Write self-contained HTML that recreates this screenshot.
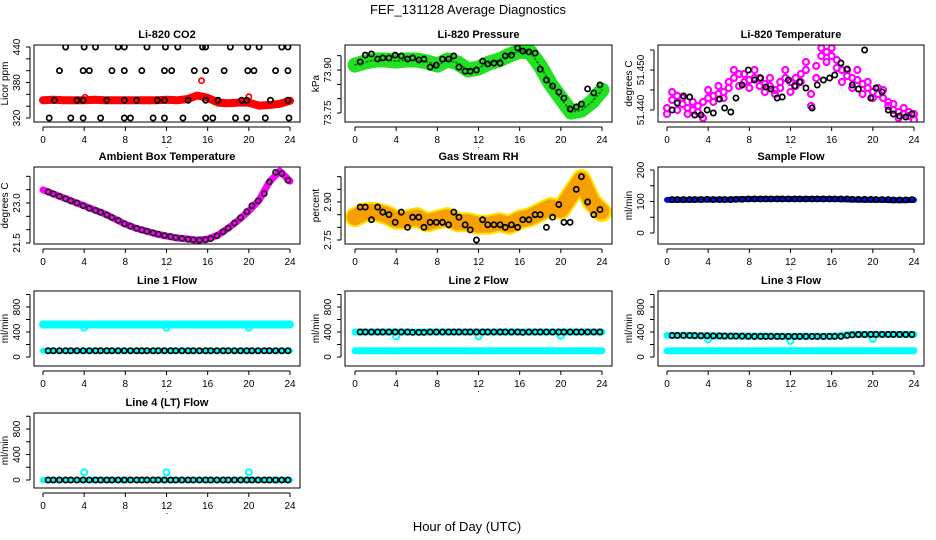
<!DOCTYPE html>
<html><head><meta charset="utf-8"><style>
html,body{margin:0;padding:0;background:#fff;}
svg{display:block;font-family:"Liberation Sans",sans-serif;}
</style></head><body>
<svg id="chart" width="936" height="540" viewBox="0 0 936 540" xmlns="http://www.w3.org/2000/svg">
<text x="468" y="14" font-size="13" text-anchor="middle">FEF_131128  Average Diagnostics</text>
<text x="467" y="531" font-size="13" text-anchor="middle">Hour of Day (UTC)</text>
</svg>
<script>
const xTicks = [0,4,8,12,16,20,24];
const hourly = [0,1,2,3,4,5,6,7,8,9,10,11,12,13,14,15,16,17,18,19,20,21,22,23,24];
const halfHours = [0,0.5,1,1.5,2,2.5,3,3.5,4,4.5,5,5.5,6,6.5,7,7.5,8,8.5,9,9.5,10,10.5,11,11.5,12,12.5,13,13.5,14,14.5,15,15.5,16,16.5,17,17.5,18,18.5,19,19.5,20,20.5,21,21.5,22,22.5,23,23.5,24];
const blackHours = [0.5,1,1.6,2.2,2.7,3.3,3.9,4.5,5.1,5.6,6.2,6.7,7.3,7.9,8.5,9.1,9.6,10.1,10.7,11.2,11.8,12.4,12.9,13.5,14.1,14.6,15.2,15.8,16.3,16.9,17.5,18.0,18.6,19.2,19.8,20.3,20.9,21.5,22.0,22.6,23.2,23.8];
const outlierHours = [4,12,20];

// CO2
const co2Band = [350,351,350,350,350,351,350,350,350,350,350,350,351,350,352,358,354,346,345,346,346,341,342,344,349];
const co2H440 = [2.2,4,5.1,7.3,7.9,10.1,11.9,13.1,15.5,15.8,18.2,19.9,21.0,23.2,23.8];
const co2H400 = [1.6,3.9,4.5,6.7,7.9,9.6,11.8,12.5,14.7,15.8,17.6,19.9,20.5,22.6,23.8];
const co2H350 = [1.1,3.3,3.9,6.2,7.9,9.1,11.1,11.8,14.1,15.8,17.0,19.3,19.8,22.1,23.8];
const co2H320 = [0.6,2.7,3.9,5.6,7.9,8.5,10.7,11.8,13.6,15.8,16.5,18.7,19.8,21.6,23.9];
const co2Levels = [440,400,350,320];
const co2RedOutH = [4.1,15.4,20.0];
const co2RedOutV = [355,383,356];

// Pressure
const presBand = [73.917,73.928,73.935,73.935,73.931,73.935,73.935,73.928,73.917,73.935,73.924,73.900,73.907,73.924,73.935,73.952,73.966,73.963,73.914,73.851,73.802,73.753,73.760,73.788,73.830];
const presBlack = [73.928,73.952,73.956,73.938,73.942,73.942,73.952,73.949,73.938,73.942,73.935,73.938,73.910,73.917,73.938,73.938,73.949,73.910,73.896,73.896,73.900,73.931,73.921,73.924,73.924,73.949,73.952,73.977,73.966,73.963,73.959,73.903,73.865,73.844,73.823,73.802,73.764,73.771,73.781,73.834,73.820,73.848];

// Li-820 temperature
const ltMagA = [51.4405,51.4425,51.4435,51.4415,51.4405,51.4400,51.4395,51.4420,51.4430,51.4435,51.4440,51.4445,51.4455,51.4480,51.4490,51.4470,51.4475,51.4480,51.4480,51.4465,51.4460,51.4450,51.4470,51.4480,51.4470,51.4460,51.4490,51.4520,51.4410,51.4510,51.4535,51.4545,51.4535,51.4525,51.4500,51.4485,51.4480,51.4475,51.4465,51.4455,51.4445,51.4440,51.4450,51.4420,51.4400,51.4395,51.4390,51.4385,51.4390];
const ltMagB = [51.4390,51.4445,51.4400,51.4430,51.4390,51.4420,51.4410,51.4380,51.4450,51.4420,51.4460,51.4430,51.4470,51.4500,51.4460,51.4490,51.4455,51.4500,51.4460,51.4445,51.4480,51.4440,51.4455,51.4500,51.4445,51.4480,51.4470,51.4500,51.4440,51.4480,51.4555,51.4520,51.4555,51.4505,51.4470,51.4500,51.4455,51.4500,51.4440,51.4470,51.4430,51.4455,51.4430,51.4410,51.4415,51.4380,51.4405,51.4395,51.4375];
const ltBlack = [51.4400,51.44175,51.4435,51.44325,51.43875,51.43875,51.4400,51.43925,51.44275,51.4405,51.4395,51.4430,51.44625,51.4500,51.4475,51.4480,51.44575,51.44525,51.4430,51.44325,51.4475,51.4460,51.4470,51.4455,51.4405,51.44625,51.4475,51.4480,51.44875,51.45175,51.45025,51.44625,51.44525,51.4550,51.4430,51.4455,51.4445,51.4400,51.4390,51.4385,51.43825,51.4390];

// Ambient box temperature
const ambBand = [23.49,23.34,23.19,23.04,22.89,22.74,22.59,22.40,22.21,22.06,21.95,21.84,21.76,21.69,21.65,21.61,21.65,21.80,22.06,22.36,22.70,23.11,23.79,24.20,23.82];
const ambBlack = [23.42,23.34,23.25,23.16,23.08,23.00,22.90,22.80,22.72,22.65,22.55,22.46,22.35,22.22,22.13,22.05,21.99,21.94,21.88,21.83,21.78,21.74,21.70,21.67,21.64,21.62,21.61,21.62,21.66,21.77,21.92,22.06,22.25,22.45,22.68,22.90,23.08,23.35,23.79,24.15,24.10,23.85];

// Gas stream RH
const rhBand = [2.84,2.86,2.86,2.85,2.83,2.83,2.84,2.82,2.83,2.84,2.82,2.82,2.81,2.81,2.82,2.81,2.83,2.84,2.86,2.88,2.87,2.93,2.99,2.90,2.86];
const rhBlack = [2.88,2.88,2.83,2.88,2.86,2.85,2.82,2.86,2.80,2.84,2.84,2.80,2.82,2.82,2.82,2.81,2.86,2.84,2.81,2.79,2.75,2.83,2.81,2.81,2.81,2.80,2.81,2.80,2.83,2.83,2.85,2.85,2.80,2.84,2.89,2.82,2.82,2.95,3.00,2.90,2.85,2.87];

// Sample flow
const sfBand = [105,105,105,106,106,106,106,107,108,108,108,108,108,108,108,108,108,107,106,105,105,105,104,104,105];
const sfBlack = [106,106,106,106,106,106,107,106,106,106,106,107,107,108,108,108,108,108,108,108,108,108,108,108,108,108,108,108,108,108,108,107,107,107,107,106,106,106,105,105,105,106];

// Line flows
const l1Top = [520,520,520,520,520,520,520,520,520,520,520,520,520,520,520,520,520,520,520,520,520,520,520,520,520];
const l1Low = [100,100,100,100,100,100,100,100,100,100,100,100,100,100,100,100,100,100,100,100,100,100,100,100,100];
const l1Out = [470,470,470];
const l1Black = [100,100,100,100,100,100,100,100,100,100,100,100,100,100,100,100,100,100,100,100,100,100,100,100,100,100,100,100,100,100,100,100,100,100,100,100,100,100,100,100,100,100];
const l2Top = [400,400,400,400,400,400,400,400,400,400,400,400,400,400,400,400,400,400,400,400,400,400,400,400,400];
const l2Low = [100,100,100,100,100,100,100,100,100,100,100,100,100,100,100,100,100,100,100,100,100,100,100,100,100];
const l2Out = [330,330,340];
const l2Black = [400,400,400,400,400,400,400,400,400,395,395,395,400,400,400,400,400,400,400,400,400,400,400,400,400,400,400,400,395,400,400,400,400,400,400,400,400,400,400,400,400,400];
const l3Top = [345,345,345,340,340,335,335,335,335,335,335,330,330,330,330,330,330,345,360,360,360,360,360,360,360];
const l3Low = [100,100,100,100,100,100,100,100,100,100,100,100,100,100,100,100,100,100,100,100,100,100,100,100,100];
const l3Out = [280,260,290];
const l3Black = [345,345,345,345,342,340,340,338,338,336,335,335,334,332,330,330,330,330,330,330,330,330,330,330,330,330,330,330,330,330,345,355,360,360,362,362,362,362,362,362,360,360];
const l4Low = [0,0,0,0,0,0,0,0,0,0,0,0,0,0,0,0,0,0,0,0,0,0,0,0,0];
const l4Out = [120,120,120];
const l4Black = [0,0,0,0,0,0,0,0,0,0,0,0,0,0,0,0,0,0,0,0,0,0,0,0,0,0,0,0,0,0,0,0,0,0,0,0,0,0,0,0,0,0];

const svg = document.getElementById('chart');
const NS = 'http://www.w3.org/2000/svg';
function mk(tag, attrs, parent){
  const e = document.createElementNS(NS, tag);
  for (const k in attrs) e.setAttribute(k, attrs[k]);
  (parent||svg).appendChild(e);
  return e;
}

function panel(cfg){
  const g = mk('g', {});
  
  
  const [L,T,R,B] = cfg.box;
  const sx = h => cfg.x0 + h * (247/24);
  const sy = v => cfg.yp[0] + (v - cfg.yv[0]) * (cfg.yp[1]-cfg.yp[0])/(cfg.yv[1]-cfg.yv[0]);
  const clip = 'clip-' + cfg.name;
  const cp = mk('clipPath', {id: clip}, g);
  mk('rect', {x:L, y:T, width:R-L, height:B-T}, cp);
  const plot = mk('g', {'clip-path':'url(#'+clip+')'}, g);
  
  
  cfg.draw(plot, sx, sy);
  const box = mk('rect', {x:L, y:T, width:R-L, height:B-T, fill:'none', stroke:'#000', 'stroke-width':1}, g);
  
  
  const t = mk('text', {x:(L+R)/2, y:T-7, 'font-size':11, 'font-weight':'bold', 'text-anchor':'middle'}, g);
  t.textContent = cfg.title;
  
  
  const xa = mk('g', {}, g);
  
  
  const ay = B + 5;
  mk('line', {x1:sx(0), x2:sx(24), y1:ay, y2:ay, stroke:'#000', 'stroke-width':1}, xa);
  xTicks.forEach(h => {
    mk('line', {x1:sx(h), x2:sx(h), y1:ay, y2:ay+4, stroke:'#000'}, xa);
    const tl = mk('text', {x:sx(h), y:ay+16, 'font-size':10, 'text-anchor':'middle'}, xa);
    tl.textContent = h;
    
    
  });
  const ya = mk('g', {}, g);
  
  
  const ax = L - 4;
  const tpx = cfg.ticks.map(sy);
  mk('line', {x1:ax, x2:ax, y1:Math.min(...tpx), y2:Math.max(...tpx), stroke:'#000'}, ya);
  cfg.ticks.forEach(v => {
    mk('line', {x1:ax-4, x2:ax, y1:sy(v), y2:sy(v), stroke:'#000'}, ya);
  });
  cfg.labels.forEach(v => {
    const lx = L - 14, ly = sy(v);
    const tl = mk('text', {x:lx, y:ly, 'font-size':10, 'text-anchor':'middle', transform:`rotate(-90 ${lx} ${ly})`}, ya);
    tl.textContent = cfg.fmt ? cfg.fmt(v) : v;
    
    
  });
  const yl = L - 26, ymid = (T+B)/2;
  const ylt = mk('text', {x:yl, y:ymid, 'font-size':10, 'text-anchor':'middle', transform:`rotate(-90 ${yl} ${ymid})`}, g);
  ylt.textContent = cfg.ylab;
  
  
  const dot = mk('text', {x:(L+R)/2, y:B+26, 'font-size':9, 'text-anchor':'middle'}, g);
  dot.textContent = '.';
  
  
}

function band(p, xs, ys, sx, sy, color, width, name){
  const pts = xs.map((h,i) => sx(h).toFixed(1)+','+sy(ys[i]).toFixed(1)).join(' ');
  const e = mk('polyline', {points:pts, fill:'none', stroke:color, 'stroke-width':width, 'stroke-linejoin':'round', 'stroke-linecap':'round'}, p);
  
  
  return e;
}
function circles(p, xs, ys, sx, sy, color, name, r, sw){
  const g = mk('g', {}, p);
  
  
  xs.forEach((h,i) => {
    mk('circle', {cx:sx(h), cy:sy(ys[i]), r:r||2.6, fill:'none', stroke:color, 'stroke-width':sw||1.7}, g);
  });
}
const fill = (n, v) => Array(n).fill(v);

panel({name:'co2-panel', title:'Li-820 CO2', box:[34,45,300,122], x0:43, yv:[320,440], yp:[118,47],
  ticks:[320,340,360,380,400,420,440], labels:[320,380,440], ylab:'Licor ppm',
  draw:(p,sx,sy)=>{
    band(p, hourly, co2Band, sx, sy, '#f00', 8, 'co2-red-series');
    circles(p, co2RedOutH, co2RedOutV, sx, sy, '#f00', 'co2-red-outliers');
    [co2H440,co2H400,co2H350,co2H320].forEach((hs,k)=>{
      circles(p, hs, fill(hs.length, co2Levels[k]), sx, sy, '#000', 'co2-black-points-'+co2Levels[k]);
    });
  }});

panel({name:'pressure-panel', title:'Li-820 Pressure', box:[345,45,612,122], x0:355, yv:[73.75,73.90], yp:[113,70],
  ticks:[73.75,73.80,73.85,73.90,73.95], labels:[73.75,73.90], fmt:v=>v.toFixed(2), ylab:'kPa',
  draw:(p,sx,sy)=>{
    band(p, hourly, presBand, sx, sy, '#22e022', 15, 'pressure-green-series');
    band(p, hourly, presBand, sx, sy, '#0a8a0a', 2, 'pressure-green-core').setAttribute('stroke-dasharray','1 3');
    circles(p, blackHours, presBlack, sx, sy, '#000', 'pressure-black-points');
  }});

panel({name:'li820-temperature-panel', title:'Li-820 Temperature', box:[658,45,924,122], x0:667, yv:[51.44,51.45], yp:[110,70],
  ticks:[51.440,51.445,51.450,51.455], labels:[51.440,51.450], fmt:v=>v.toFixed(3), ylab:'degrees C',
  draw:(p,sx,sy)=>{
    circles(p, halfHours, ltMagA, sx, sy, '#f0f', 'li820-temp-magenta-a', 3, 2.2);
    circles(p, halfHours, ltMagB, sx, sy, '#f0f', 'li820-temp-magenta-b', 3, 2.2);
    circles(p, blackHours, ltBlack, sx, sy, '#000', 'li820-temp-black-points');
  }});

panel({name:'ambient-temperature-panel', title:'Ambient Box Temperature', box:[34,167,300,244], x0:43, yv:[21.5,23.0], yp:[243,203],
  ticks:[21.5,22.0,22.5,23.0,23.5,24.0], labels:[21.5,23.0], fmt:v=>v.toFixed(1), ylab:'degrees C',
  draw:(p,sx,sy)=>{
    band(p, hourly, ambBand, sx, sy, '#f0f', 7, 'ambient-magenta-series');
    circles(p, blackHours, ambBlack, sx, sy, '#222', 'ambient-black-points');
  }});

panel({name:'gas-rh-panel', title:'Gas Stream RH', box:[345,167,612,244], x0:355, yv:[2.75,2.90], yp:[240,202],
  ticks:[2.75,2.80,2.85,2.90,2.95,3.00], labels:[2.75,2.90], fmt:v=>v.toFixed(2), ylab:'percent',
  draw:(p,sx,sy)=>{
    band(p, hourly, rhBand, sx, sy, '#ffe000', 20, 'rh-yellow-series');
    band(p, hourly, rhBand, sx, sy, '#f5a000', 16, 'rh-orange-series').setAttribute('stroke-dasharray','1 2');
    circles(p, blackHours, rhBlack, sx, sy, '#000', 'rh-black-points');
  }});

panel({name:'sample-flow-panel', title:'Sample Flow', box:[658,167,924,244], x0:667, yv:[0,200], yp:[233,170],
  ticks:[0,50,100,150,200], labels:[0,100,200], ylab:'ml/min',
  draw:(p,sx,sy)=>{
    band(p, hourly, sfBand, sx, sy, '#0010e0', 6, 'sample-flow-blue-series');
    circles(p, blackHours, sfBlack, sx, sy, '#000', 'sample-flow-black-points');
  }});

const flowTicks = [0,200,400,600,800,1000];
panel({name:'line1-flow-panel', title:'Line 1 Flow', box:[34,291,300,366], x0:43, yv:[0,800], yp:[357,307],
  ticks:flowTicks, labels:[0,400,800], ylab:'ml/min',
  draw:(p,sx,sy)=>{
    band(p, hourly, l1Top, sx, sy, '#0ff', 8, 'line1-cyan-upper');
    band(p, hourly, l1Low, sx, sy, '#0ff', 6, 'line1-cyan-lower');
    circles(p, outlierHours, l1Out, sx, sy, '#0ff', 'line1-cyan-outliers', 3, 2);
    circles(p, blackHours, l1Black, sx, sy, '#000', 'line1-black-points');
  }});
panel({name:'line2-flow-panel', title:'Line 2 Flow', box:[345,291,612,366], x0:355, yv:[0,800], yp:[357,307],
  ticks:flowTicks, labels:[0,400,800], ylab:'ml/min',
  draw:(p,sx,sy)=>{
    band(p, hourly, l2Top, sx, sy, '#0ff', 7, 'line2-cyan-upper');
    band(p, hourly, l2Low, sx, sy, '#0ff', 7, 'line2-cyan-lower');
    circles(p, outlierHours, l2Out, sx, sy, '#0ff', 'line2-cyan-outliers', 3, 2);
    circles(p, blackHours, l2Black, sx, sy, '#000', 'line2-black-points');
  }});
panel({name:'line3-flow-panel', title:'Line 3 Flow', box:[658,291,924,366], x0:667, yv:[0,800], yp:[357,307],
  ticks:flowTicks, labels:[0,400,800], ylab:'ml/min',
  draw:(p,sx,sy)=>{
    band(p, hourly, l3Top, sx, sy, '#0ff', 7, 'line3-cyan-upper');
    band(p, hourly, l3Low, sx, sy, '#0ff', 7, 'line3-cyan-lower');
    circles(p, outlierHours, l3Out, sx, sy, '#0ff', 'line3-cyan-outliers', 3, 2);
    circles(p, blackHours, l3Black, sx, sy, '#000', 'line3-black-points');
  }});
panel({name:'line4-flow-panel', title:'Line 4 (LT) Flow', box:[34,413,300,488], x0:43, yv:[0,800], yp:[480,429],
  ticks:flowTicks, labels:[0,400,800], ylab:'ml/min',
  draw:(p,sx,sy)=>{
    band(p, hourly, l4Low, sx, sy, '#0ff', 6, 'line4-cyan-series');
    circles(p, outlierHours, l4Out, sx, sy, '#0ff', 'line4-cyan-outliers', 3, 2);
    circles(p, blackHours, l4Black, sx, sy, '#000', 'line4-black-points');
  }});
</script>
</body></html>
